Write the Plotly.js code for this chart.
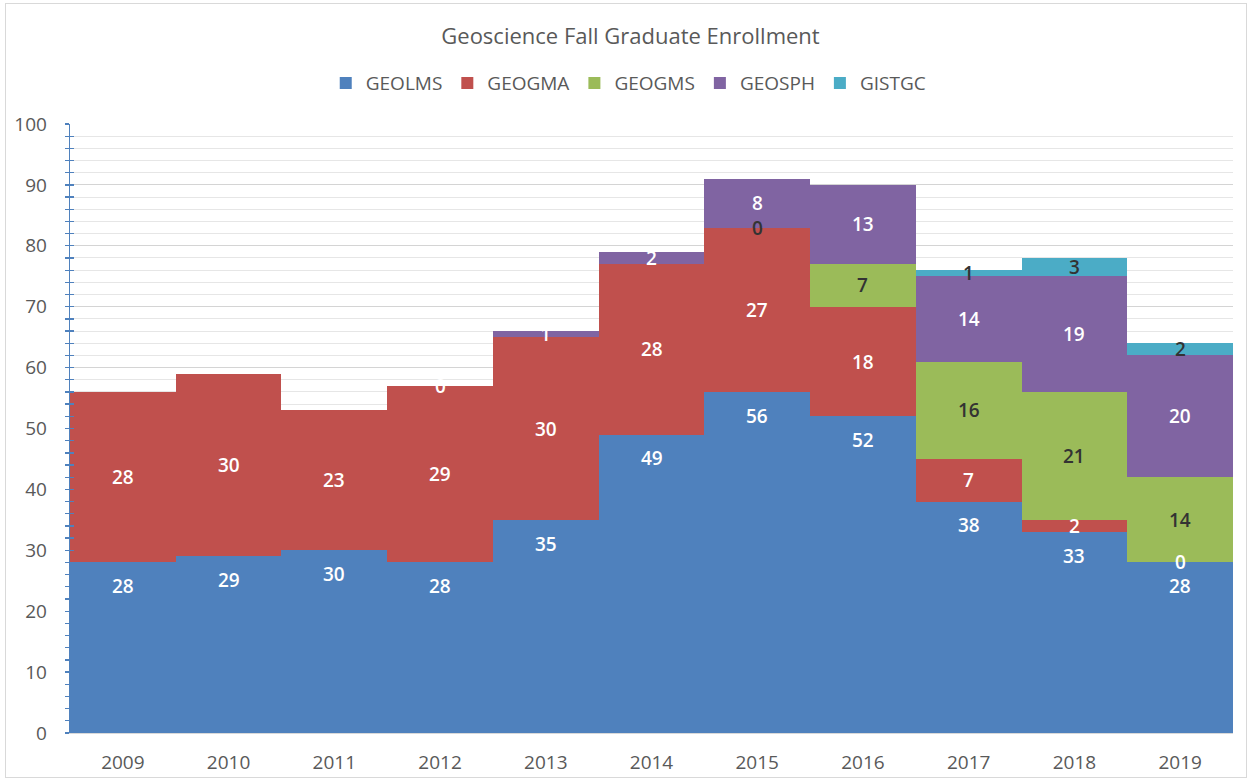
<!DOCTYPE html>
<html>
<head>
<meta charset="utf-8">
<script src="https://cdn.plot.ly/plotly-3.0.1.min.js"></script>
<style>
  html, body { margin: 0; padding: 0; background: #ffffff; }
  #frame { position: absolute; left: 5px; top: 3px; width: 1242px; height: 775px; border: 1px solid #d9d9d9; box-sizing: border-box; }
  #chart { position: absolute; left: 0; top: 0; width: 1251px; height: 782px; }
</style>
</head>
<body>
<div id="frame"></div>
<div id="chart"></div>
<script>
const years = ['2009','2010','2011','2012','2013','2014','2015','2016','2017','2018','2019'];
const seriesNames = ['GEOLMS','GEOGMA','GEOGMS','GEOSPH','GISTGC'];
const GEOLMS = [28, 29, 30, 28, 35, 49, 56, 52, 38, 33, 28];
const GEOGMA = [28, 30, 23, 29, 30, 28, 27, 18, 7, 2, 0];
const GEOGMS = [null, null, null, null, null, null, 0, 7, 16, 21, 14];
const GEOSPH = [null, null, null, 0, 1, 2, 8, 13, 14, 19, 20];
const GISTGC = [null, null, null, null, null, null, null, null, 1, 3, 2];

const seriesValues = [GEOLMS, GEOGMA, GEOGMS, GEOSPH, GISTGC];
const colors = ['#4F81BD', '#C0504D', '#9BBB59', '#8064A2', '#4BACC6'];
const labelColors = ['#ffffff', '#ffffff', '#333333', '#ffffff', '#333333'];
const FONT = '"Open Sans", "Liberation Sans", sans-serif';

const traces = seriesValues.map((vals, i) => ({
  type: 'bar',
  name: seriesNames[i],
  x: years,
  y: vals,
  marker: { color: colors[i], line: { width: 0 } },
  hoverinfo: 'x+y+name'
}));

// invisible trace to host the crossing-tick overlay axis
traces.push({
  type: 'scatter', mode: 'markers', x: years, y: years.map(() => null),
  yaxis: 'y2', showlegend: false, hoverinfo: 'skip'
});

// data labels, positioned in data coordinates from the stacked sums
// (category axis: annotation x is the category's serial index)
const annotations = [];
const cum = years.map(() => 0);
seriesValues.forEach((vals, i) => {
  vals.forEach((v, j) => {
    if (v === null) return;
    const base = cum[j];
    const top = base + v;
    const yPos = (i === 0) ? top - 3.9 : base + v / 2;
    annotations.push({
      x: j, y: yPos, xref: 'x', yref: 'y',
      text: String(v), showarrow: false,
      font: { family: FONT, size: 19, color: labelColors[i], weight: 600 },
      xanchor: 'center', yanchor: 'middle'
    });
    cum[j] = top;
  });
});

const layout = {
  width: 1251, height: 782,
  paper_bgcolor: 'rgba(0,0,0,0)',
  plot_bgcolor: 'rgba(0,0,0,0)',
  margin: { l: 70, r: 18, t: 124, b: 49 },
  barmode: 'stack',
  bargap: 0,
  font: { family: FONT, color: '#595959' },
  title: {
    text: 'Geoscience Fall Graduate Enrollment',
    font: { family: FONT, size: 22, color: '#595959' },
    x: 0.504, xanchor: 'center', y: 0.953, yanchor: 'middle', yref: 'container'
  },
  showlegend: true,
  legend: {
    orientation: 'h', x: 0.48, xanchor: 'center', y: 1.067, yanchor: 'middle',
    font: { family: FONT, size: 19, color: '#595959' },
    traceorder: 'normal', itemsizing: 'constant', itemwidth: 30
  },
  xaxis: {
    type: 'category',
    range: [-0.5, years.length - 0.5],
    showgrid: false,
    showline: true, linecolor: '#d9d9d9', linewidth: 1,
    ticks: '',
    tickfont: { family: FONT, size: 19, color: '#595959' },
    ticklabelstandoff: 12,
    fixedrange: true
  },
  yaxis: {
    range: [0, 100], dtick: 10, tick0: 0,
    showgrid: true, gridcolor: '#d4d4d4', gridwidth: 1,
    zeroline: false,
    showline: true, linecolor: '#4F81BD', linewidth: 1.3,
    ticks: 'outside', ticklen: 4, tickcolor: '#4F81BD', tickwidth: 1.3,
    tickfont: { family: FONT, size: 19, color: '#595959' },
    ticklabelstandoff: 14,
    minor: { dtick: 2, ticks: 'outside', ticklen: 4, tickcolor: '#4F81BD', tickwidth: 1.3, showgrid: true, gridcolor: '#e6e6e6', gridwidth: 1 },
    fixedrange: true
  },
  yaxis2: {
    overlaying: 'y', side: 'left', anchor: 'x',
    range: [0, 100], dtick: 10, tick0: 0,
    showgrid: false, zeroline: false, showline: false,
    showticklabels: false,
    ticks: 'inside', ticklen: 4, tickcolor: '#4F81BD', tickwidth: 1.3,
    minor: { dtick: 2, ticks: 'inside', ticklen: 4, tickcolor: '#4F81BD', tickwidth: 1.3, showgrid: false },
    fixedrange: true
  },
  annotations: annotations
};

Plotly.newPlot('chart', traces, layout, { displayModeBar: false, staticPlot: true });
</script>
</body>
</html>
